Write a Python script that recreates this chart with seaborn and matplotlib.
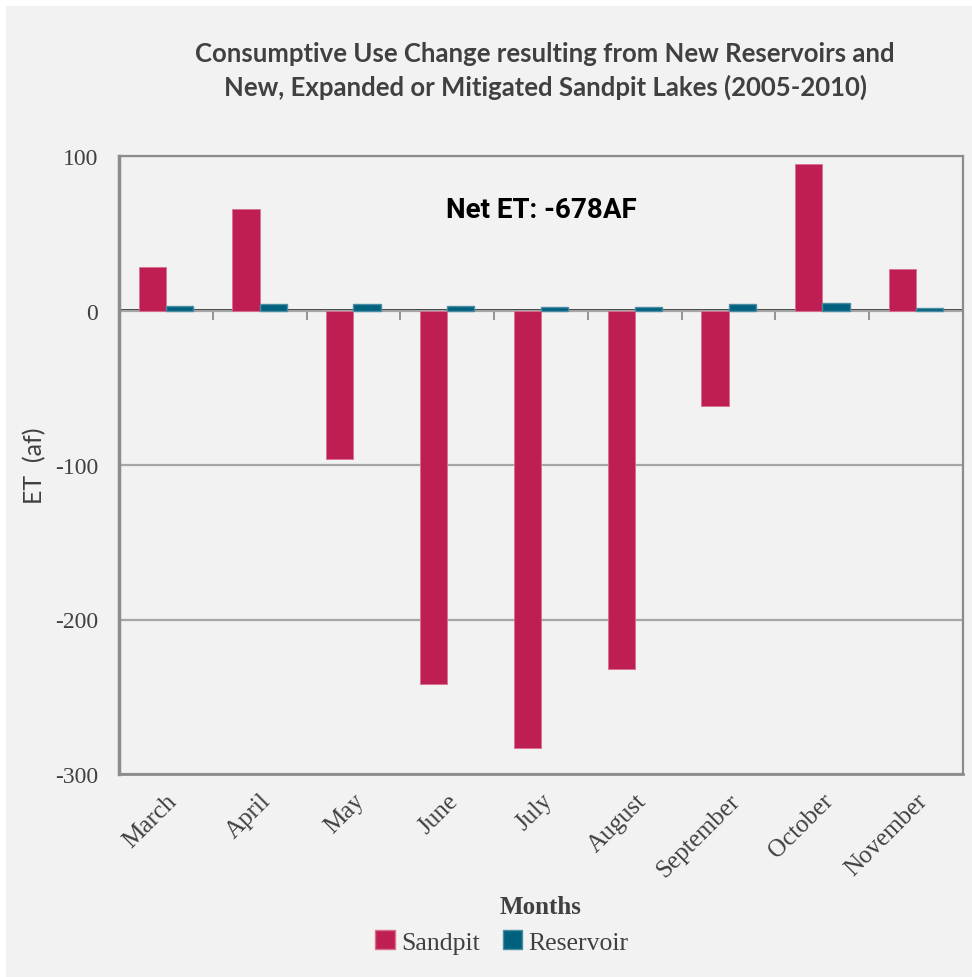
import matplotlib
matplotlib.use("Agg")
import matplotlib.pyplot as plt
import matplotlib.patches as mpatches
import seaborn as sns
import pandas as pd

months = ["March", "April", "May", "June", "July", "August",
          "September", "October", "November"]
sandpit = [28, 66, -96, -242, -283, -232, -62, 95, 27]
reservoir = [3, 4, 4, 3, 2, 2, 4, 5, 1.5]
series = ["Sandpit", "Reservoir"]
colors = {"Sandpit": "#BE1E52", "Reservoir": "#00617F"}
edges = {"Sandpit": "#D9708F", "Reservoir": "#4C8CA3"}
net_et_label = "Net ET: -678AF"

df = pd.DataFrame({
    "Month": months * 2,
    "Series": ["Sandpit"] * len(months) + ["Reservoir"] * len(months),
    "ET": sandpit + reservoir,
})

sns.set_theme(style="white")
serif = ["Liberation Serif", "DejaVu Serif"]
sans = ["Lato", "DejaVu Sans"]
text_gray = "#404040"
line_gray = "#8C8C8C"
grid_gray = "#A6A6A6"
bg = "#F2F2F2"

fig = plt.figure(figsize=(9.72, 9.78), dpi=100, facecolor="white")
# light panel behind the chart
fig.patches.append(mpatches.Rectangle((6 / 972, 0), 1, 1 - 7 / 978,
                                      transform=fig.transFigure,
                                      facecolor=bg, edgecolor="none", zorder=-10))

ax = fig.add_axes([119 / 972, 1 - 775 / 978, (963 - 119) / 972, (775 - 157) / 978])
ax.set_facecolor(bg)

sns.barplot(data=df, x="Month", y="ET", hue="Series", hue_order=series,
            order=months, palette=colors, saturation=1, width=0.58, gap=0,
            dodge=True, errorbar=None, ax=ax, legend=False, zorder=3)

for container, name in zip(ax.containers, series):
    for bar in container:
        bar.set_edgecolor(edges[name])
        bar.set_linewidth(1.0 if name == "Reservoir" else 0.6)

ax.set_xlim(-0.5, len(months) - 0.5)
ax.set_ylim(-300, 100)
ax.set_yticks([-300, -200, -100, 0, 100])
ax.set_yticklabels(["-300", "-200", "-100", "0", "100"])
ax.yaxis.grid(True, color=grid_gray, linewidth=1.6, zorder=0)
ax.set_axisbelow(True)

for side in ["left", "bottom", "right", "top"]:
    ax.spines[side].set_visible(True)
    ax.spines[side].set_color(line_gray)
ax.spines["left"].set_linewidth(2.5)
ax.spines["bottom"].set_linewidth(2.0)
ax.spines["right"].set_linewidth(1.6)
ax.spines["top"].set_linewidth(1.6)

ax.tick_params(axis="y", which="major", direction="out", length=7, width=1.6,
               color=line_gray, pad=8, labelsize=17, labelcolor=text_gray)
for lab in ax.get_yticklabels():
    lab.set_fontfamily(serif)

ax.tick_params(axis="x", which="major", length=0, pad=11, labelsize=18,
               labelcolor=text_gray)
ax.set_xticks(range(len(months)))
ax.set_xticklabels(months, rotation=45, ha="right", rotation_mode="anchor",
                   fontfamily=serif)

# category axis crossing at zero with boundary tick marks hanging below it
zero_frac = (0 - (-300)) / (100 - (-300))
sec = ax.secondary_xaxis(zero_frac)
sec.set_xticks([i + 0.5 for i in range(len(months))])
sec.set_xticklabels([])
sec.tick_params(direction="in", length=7, width=1.3, color=line_gray)
sec.spines["bottom"].set_color(grid_gray)
sec.spines["bottom"].set_linewidth(2.0)

ax.set_xlabel("Months", fontfamily=serif, fontweight="bold", fontsize=18,
              color=text_gray)
ax.xaxis.set_label_coords(0.5, -0.195)
ax.set_ylabel("ET  (af)", fontfamily=sans, fontsize=18, color=text_gray,
              labelpad=6)

ax.text(0.5, 0.914, net_et_label, transform=ax.transAxes, ha="center",
        va="center", fontsize=20, fontweight="bold", color="black",
        fontfamily=["Roboto", "DejaVu Sans"])

fig.text(545 / 972, 1 - 71 / 978,
         "Consumptive Use Change resulting from New Reservoirs and\n"
         "New, Expanded or Mitigated Sandpit Lakes (2005-2010)",
         ha="center", va="center", fontsize=18.5, fontweight="bold",
         color=text_gray, fontfamily=sans, linespacing=1.38)

handles = [mpatches.Patch(facecolor=colors[s], edgecolor=edges[s], label=s)
           for s in series]
leg = fig.legend(handles=handles, loc="center", ncol=2,
                 bbox_to_anchor=(502 / 972, 1 - 943 / 978), frameon=False,
                 handlelength=0.75, handleheight=0.75, handletextpad=0.25,
                 columnspacing=0.9, prop={"family": serif, "size": 18.5})
for t in leg.get_texts():
    t.set_color(text_gray)

fig.savefig("out.png", dpi=100, facecolor="white")
